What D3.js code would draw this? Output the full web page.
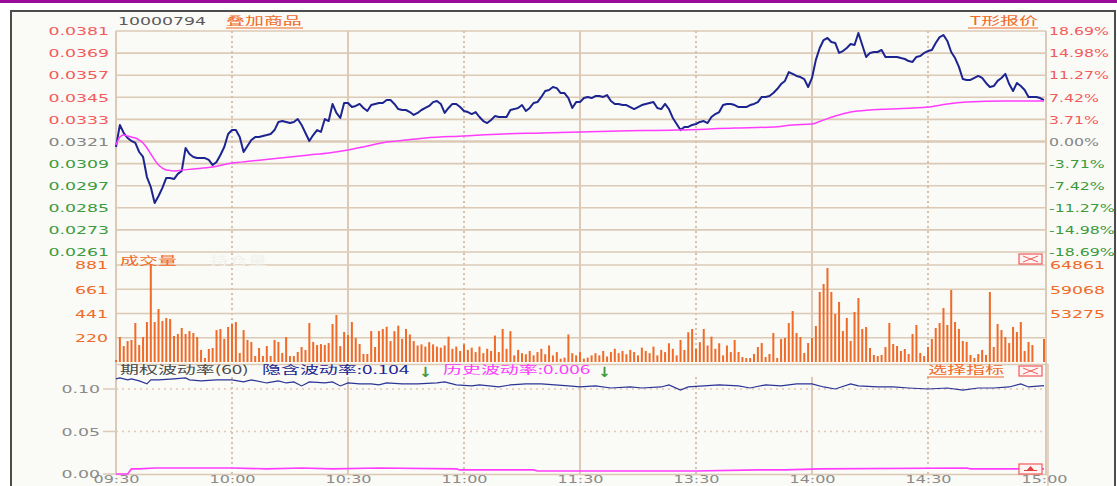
<!DOCTYPE html>
<html><head><meta charset="utf-8">
<script src="https://cdn.jsdelivr.net/npm/d3@7"></script>
<style>body{margin:0;background:#fff;overflow:hidden}svg{display:block}</style>
</head><body>
<svg id="c" width="1117" height="486"></svg>
<script>
// ---------------- DATA ----------------
const timeLabels = ["09:30","10:00","10:30","11:00","11:30","13:30","14:00","14:30","15:00"];
const timeMinutes = [0,30,60,90,120,150,180,210,240];

const priceTicks = [0.0381,0.0369,0.0357,0.0345,0.0333,0.0321,0.0309,0.0297,0.0285,0.0273,0.0261];
const pctLabels = ["18.69%","14.98%","11.27%","7.42%","3.71%","0.00%","-3.71%","-7.42%","-11.27%","-14.98%","-18.69%"];
const prevClose = 0.0321;

// one price per minute, 09:30 .. 15:00
const prices = [
0.03180,0.03300,0.03256,0.03229,0.03213,0.03202,0.03153,0.03126,0.03017,0.02963,
0.02876,0.02914,0.02958,0.03012,0.03012,0.03006,0.03034,0.03050,0.03175,0.03142,
0.03126,0.03120,0.03120,0.03120,0.03110,0.03082,0.03099,0.03137,0.03180,0.03251,
0.03272,0.03272,0.03234,0.03153,0.03186,0.03218,0.03234,0.03234,0.03240,0.03245,
0.03251,0.03272,0.03316,0.03321,0.03316,0.03310,0.03316,0.03332,0.03300,0.03256,
0.03213,0.03245,0.03272,0.03262,0.03332,0.03321,0.03414,0.03365,0.03338,0.03419,
0.03419,0.03397,0.03403,0.03414,0.03392,0.03376,0.03408,0.03414,0.03419,0.03419,
0.03435,0.03435,0.03414,0.03386,0.03381,0.03381,0.03370,0.03354,0.03365,0.03381,
0.03392,0.03403,0.03424,0.03430,0.03414,0.03365,0.03392,0.03414,0.03414,0.03397,
0.03376,0.03370,0.03359,0.03370,0.03343,0.03321,0.03310,0.03327,0.03348,0.03343,
0.03343,0.03343,0.03381,0.03386,0.03392,0.03408,0.03376,0.03392,0.03419,0.03424,
0.03452,0.03484,0.03490,0.03506,0.03500,0.03473,0.03473,0.03446,0.03392,0.03424,
0.03424,0.03446,0.03452,0.03446,0.03457,0.03457,0.03452,0.03462,0.03430,0.03414,
0.03414,0.03408,0.03408,0.03397,0.03386,0.03397,0.03408,0.03414,0.03419,0.03424,
0.03392,0.03386,0.03414,0.03386,0.03338,0.03305,0.03272,0.03289,0.03289,0.03300,
0.03305,0.03316,0.03321,0.03310,0.03343,0.03359,0.03370,0.03408,0.03414,0.03414,
0.03408,0.03397,0.03397,0.03397,0.03408,0.03414,0.03424,0.03452,0.03452,0.03457,
0.03473,0.03495,0.03522,0.03539,0.03587,0.03577,0.03566,0.03560,0.03549,0.03506,
0.03555,0.03653,0.03718,0.03761,0.03772,0.03750,0.03745,0.03691,0.03701,0.03718,
0.03739,0.03734,0.03799,0.03734,0.03669,0.03691,0.03696,0.03696,0.03707,0.03669,
0.03669,0.03669,0.03669,0.03663,0.03658,0.03647,0.03642,0.03669,0.03674,0.03691,
0.03701,0.03707,0.03745,0.03777,0.03788,0.03756,0.03696,0.03663,0.03615,0.03549,
0.03544,0.03544,0.03555,0.03566,0.03555,0.03528,0.03506,0.03511,0.03539,0.03555,
0.03577,0.03522,0.03484,0.03528,0.03511,0.03490,0.03452,0.03452,0.03452,0.03446,
0.03435];

const avgMinutes = [0,1,2,3,4,5,6,7,8,9,10,11,12,13,14,15,17,20,25,30,35,40,45,50,55,60,65,70,75,80,90,100,110,120,130,145,160,170,175,180,183,186,190,195,200,210,215,220,230,240];
const avgPrices = [0.03191,0.03234,0.03245,0.03240,0.03234,0.03229,0.03218,0.03202,0.03175,0.03142,0.03110,0.03082,0.03066,0.03055,0.03053,0.03050,0.03055,0.03061,0.03072,0.03093,0.03104,0.03115,0.03126,0.03137,0.03148,0.03164,0.03186,0.03207,0.03218,0.03229,0.03240,0.03251,0.03256,0.03262,0.03267,0.03272,0.03283,0.03289,0.03300,0.03305,0.03327,0.03348,0.03370,0.03381,0.03386,0.03397,0.03414,0.03424,0.03430,0.03430];

const volTicks = [881,661,441,220];
const volRightLabels = ["64861","59068","53275"];
// one volume per minute
const volumes = [
18,227,145,190,200,354,154,227,363,881,363,481,372,400,390,236,254,309,254,281,
263,227,109,36,118,127,290,300,209,318,345,363,82,290,200,182,54,127,54,145,
54,200,182,82,227,54,54,91,136,109,354,182,154,163,154,172,345,427,145,272,
245,363,218,163,73,73,281,136,281,
300,320,190,280,330,210,300,250,190,150,
160,140,180,160,140,130,150,230,120,140,
100,160,110,130,90,140,80,120,100,240,
90,300,120,280,60,110,80,70,100,60,
90,120,70,150,60,90,30,40,250,80,
60,90,30,40,60,80,60,100,50,90,
120,80,100,70,110,90,60,130,100,80,
140,60,110,90,170,120,60,200,110,270,
300,120,180,300,150,230,120,170,60,150,
90,200,
91,45,36,36,73,136,172,45,73,263,36,209,218,354,463,263,227,82,172,218,
327,636,708,854,636,436,545,281,400,191,454,581,300,318,127,64,54,64,136,354,
163,145,100,118,73,254,336,82,54,136,209,309,354,490,336,654,363,300,191,182,
64,36,73,109,64,636,136,345,290,227,172,318,272,363,100,182,154,
0,0,209];

const ivTicks = [0.10,0.05,0.00];
const ivolMinutes = [0,1,3,4,6,8,9,11,15,18,19,22,26,30,33,35,39,42,44,46,48,50,54,56,58,60,63,66,68,70,74,78,83,85,88,92,94,99,102,106,110,117,120,124,128,133,136,141,143,146,148,152,156,161,164,168,172,176,180,183,186,190,192,197,201,205,210,215,219,223,227,231,234,236,240];
const ivolValues = [0.1119,0.1131,0.1107,0.1119,0.1095,0.1060,0.1107,0.1107,0.1119,0.1131,0.1107,0.1095,0.1107,0.1107,0.1083,0.1107,0.1071,0.1095,0.1071,0.1083,0.1036,0.1083,0.1071,0.1083,0.1036,0.1071,0.1060,0.1060,0.1048,0.1071,0.1060,0.1060,0.1071,0.1083,0.1048,0.1036,0.1048,0.1024,0.1048,0.1060,0.1060,0.1036,0.1024,0.1036,0.1012,0.1024,0.1012,0.1024,0.1048,0.0988,0.1024,0.1036,0.1048,0.1036,0.1012,0.1048,0.1036,0.1060,0.1060,0.1024,0.1000,0.1060,0.1036,0.1024,0.1024,0.1012,0.1000,0.1012,0.0988,0.1012,0.1012,0.1024,0.1060,0.1024,0.1040];
const hvolMinutes = [0,3,4,6,10,18,30,39,48,56,68,88,89,108,109,150,166,173,182,220,221,240];
const hvolValues = [0,0,0.0060,0.0060,0.0071,0.0071,0.0071,0.0060,0.0071,0.0060,0.0071,0.0060,0.0048,0.0048,0.0036,0.0036,0.0048,0.0048,0.0060,0.0071,0.0060,0.0060];

// ---------------- STYLE / LAYOUT ----------------
const W = 1117, H = 486;
const L = 116, R = 1044;
const C = {bg:"#FAFAF6", grid:"#DCCAB6", dot:"#D8C0AA", red:"#F25C5C", green:"#3D9A3D", gray:"#858585",
  orange:"#F06A28", navy:"#1C2490", mag:"#FF3CFF", dark:"#4A4A4A"};
const NUM = "DejaVu Sans", CJK = "'Noto Sans CJK SC','DejaVu Sans'";
const SX = 1.65, SXR = 1.5, NS = 10.5;

const svg = d3.select("#c");
const x = d3.scaleLinear().domain([0,240]).range([L,R]);
const yP = d3.scaleLinear().domain([0.0261,0.0381]).range([252,31]);
const yV = d3.scaleLinear().domain([0,881]).range([362,265]);
const yI = d3.scaleLinear().domain([0,0.10]).range([474,389]);

function txt(px,py,s,fill,o={}){
  return svg.append("text").attr("transform",`translate(${px},${py}) scale(${o.sx||SX},1)`)
    .attr("font-family",o.cjk?CJK:NUM).attr("font-size",o.size||NS).attr("fill",fill)
    .attr("font-weight",o.bold?"bold":null)
    .attr("text-anchor",o.anchor||"start").text(s);
}
function hline(x1,x2,y,col,w,dash){
  const l=svg.append("line").attr("x1",x1).attr("x2",x2).attr("y1",y).attr("y2",y).attr("stroke",col).attr("stroke-width",w);
  if(dash) l.attr("stroke-dasharray",dash); return l;
}
function vline(xx,y1,y2,col,w,dash){
  const l=svg.append("line").attr("x1",xx).attr("x2",xx).attr("y1",y1).attr("y2",y2).attr("stroke",col).attr("stroke-width",w);
  if(dash) l.attr("stroke-dasharray",dash); return l;
}

// background & frame
svg.append("rect").attr("width",W).attr("height",H).attr("fill","#fff");
svg.append("rect").attr("width",W).attr("height",3).attr("fill","#990C99");
svg.append("rect").attr("x",11).attr("y",11).attr("width",1104).attr("height",490).attr("fill",C.bg).attr("stroke","#4C4C4C").attr("stroke-width",2);

// ---------- main price panel grid ----------
priceTicks.forEach(t=>hline(L,R+2,yP(t),C.grid,Math.abs(t-prevClose)<1e-9?2.5:1.6));
const solidMin = new Set([60,120,180]);
timeMinutes.filter(m=>m>0&&m<240).forEach(m=>{
  const sol = solidMin.has(m);
  vline(x(m),31,252,sol?C.grid:C.dot,2,sol?null:"2,3");
  vline(x(m),253,362,sol?C.grid:C.dot,2,sol?null:"2,3");
  vline(x(m),377,474,sol?C.grid:C.dot,2,sol?null:"2,3");
});

// ---------- volume panel grid ----------
volTicks.forEach(t=>hline(L,R+2,yV(t),C.grid,1.6));
hline(L,1048,364.5,C.grid,1.6);
// indicator panel grid
hline(L,R,yI(0.10),"#E6C6B4",1.5,"2,4");
hline(L,R,yI(0.05),"#E6C6B4",1.5,"2,4");
hline(L,1048,yI(0)+0.5,C.grid,1.6);
ivTicks.forEach(t=>hline(103,L,yI(t),C.grid,1.5));

// panel borders
vline(L,31,475,C.grid,2);
vline(R+2,31,475,C.grid,2);
vline(1048,364,486,C.grid,1.5);

// faint open-interest caption
txt(210,265,"持仓量","#F1F1EE",{cjk:true,size:11.5});

// ---------- volume bars ----------
svg.append("g").selectAll("rect").data(volumes).join("rect")
  .attr("x",(d,i)=>x(i)-1).attr("width",2)
  .attr("y",d=>yV(d)).attr("height",d=>yV(0)-yV(d)).attr("fill",C.orange);

// ---------- price & avg lines ----------
const lineP = d3.line().x((d,i)=>x(i)).y(d=>yP(d));
svg.append("path").datum(prices).attr("d",lineP).attr("fill","none").attr("stroke",C.navy).attr("stroke-width",2).attr("stroke-linejoin","round");
const lineA = d3.line().x(d=>x(d[0])).y(d=>yP(d[1])).curve(d3.curveMonotoneX);
svg.append("path").datum(avgMinutes.map((m,i)=>[m,avgPrices[i]])).attr("d",lineA).attr("fill","none").attr("stroke",C.mag).attr("stroke-width",1.5);

// ---------- volatility lines ----------
const lineI = d3.line().x(d=>x(d[0])).y(d=>yI(d[1]));
svg.append("path").datum(ivolMinutes.map((m,i)=>[m,ivolValues[i]])).attr("d",lineI).attr("fill","none").attr("stroke","#2A3596").attr("stroke-width",1.2);
svg.append("path").datum(hvolMinutes.map((m,i)=>[m,hvolValues[i]])).attr("d",lineI).attr("fill","none").attr("stroke",C.mag).attr("stroke-width",1.6);

// ---------- axes ----------
function styled(axis,tx,ty,anchor,fill,sx,size){
  const g = svg.append("g").attr("transform",`translate(${tx},${ty})`).call(axis);
  g.attr("font-family",null).attr("font-size",null);
  g.select(".domain").remove();
  g.selectAll(".tick line").remove();
  g.selectAll(".tick text").attr("x",0).attr("transform",`scale(${sx||SX},1)`).attr("text-anchor",anchor)
    .attr("font-family",NUM).attr("font-size",size||NS).attr("fill",fill);
  return g;
}
const priceCol = (d)=> Math.abs(d-prevClose)<1e-9 ? C.gray : (d>prevClose?C.red:C.green);
styled(d3.axisLeft(yP).tickValues(priceTicks).tickFormat(d3.format(".4f")).tickSize(0),109,0,"end",priceCol)
  .selectAll(".tick text").attr("dy","0.36em");
styled(d3.axisRight(yP).tickValues(priceTicks).tickFormat((d,i)=>pctLabels[i]).tickSize(0),1049,0,"start",priceCol,SXR)
  .selectAll(".tick text").attr("dy","0.36em");
styled(d3.axisLeft(yV).tickValues(volTicks).tickSize(0),108,0,"end",C.orange)
  .selectAll(".tick text").attr("dy","0.36em");
styled(d3.axisRight(yV).tickValues(volTicks.slice(0,3)).tickFormat((d,i)=>volRightLabels[i]).tickSize(0),1050,0,"start",C.orange)
  .selectAll(".tick text").attr("dy","0.36em");
styled(d3.axisLeft(yI).tickValues(ivTicks).tickFormat(d3.format(".2f")).tickSize(0),100,0,"end","#8A8A8A")
  .selectAll(".tick text").attr("dy","0.36em");
styled(d3.axisBottom(x).tickValues(timeMinutes).tickFormat((d,i)=>timeLabels[i]).tickSize(0),0,476,"middle","#8A8A8A",1.6,10)
  .selectAll(".tick text").attr("y",0).attr("dy","0.73em");

// ---------- header texts ----------
txt(118,25,"10000794","#5A5A5A");
txt(226,25,"叠加商品",C.orange,{cjk:true,size:11.5});
hline(226,303,28,C.orange,1);
txt(1038,25,"T形报价",C.orange,{cjk:true,size:11.5,anchor:"end"});
hline(968,1038,28,C.orange,1);

txt(120,265,"成交量",C.orange,{cjk:true,size:11.5});
txt(120,374,"期权波动率(60)",C.dark,{cjk:true,size:11.5});
txt(262,374,"隐含波动率:0.104",C.navy,{cjk:true,size:11.5});
txt(419,377,"↓",C.green,{size:14,sx:1.1,bold:true});
txt(443,374,"历史波动率:0.006",C.mag,{cjk:true,size:11.5});
txt(598,377,"↓",C.green,{size:14,sx:1.1,bold:true});
txt(1004,374,"选择指标",C.orange,{cjk:true,size:11.5,anchor:"end"});
hline(927,1004,377,C.orange,1);

// close / small boxes
function xbox(bx,by){
  svg.append("rect").attr("x",bx).attr("y",by).attr("width",23).attr("height",10).attr("fill","#FFF4F4").attr("stroke","#F05A5A").attr("stroke-width",1.2);
  svg.append("path").attr("d",`M${bx+4},${by+2}L${bx+19},${by+8}M${bx+4},${by+8}L${bx+19},${by+2}`).attr("stroke","#F06060").attr("stroke-width",1);
}
xbox(1019,254);
xbox(1019,366);
svg.append("rect").attr("x",1019).attr("y",464).attr("width",23).attr("height",10).attr("fill","#FFF4F4").attr("stroke","#F05A5A").attr("stroke-width",1.2);
svg.append("path").attr("d","M1027,470L1030.5,466L1034,470Z").attr("fill","#E04040");
hline(1024,1037,470.5,"#E04040",1);
</script>
</body></html>
